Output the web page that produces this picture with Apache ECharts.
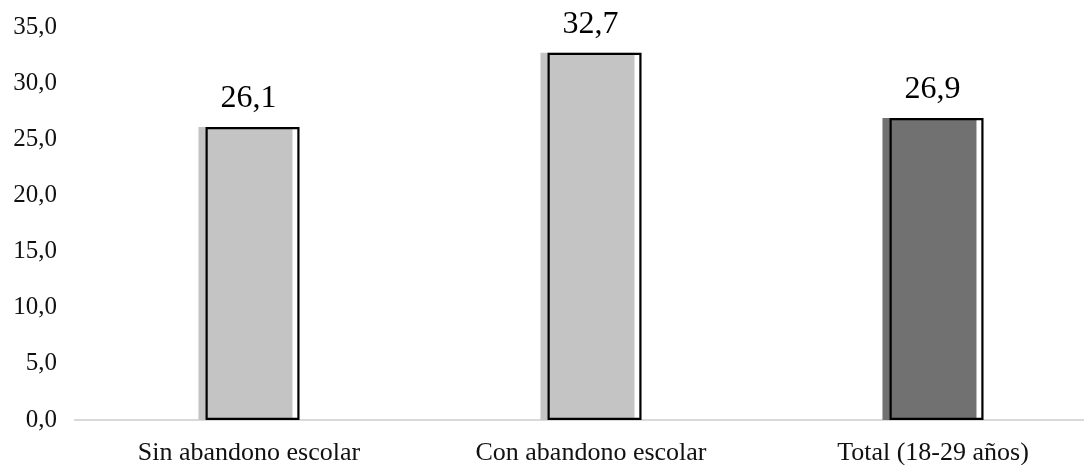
<!DOCTYPE html>
<html>
<head>
<meta charset="utf-8">
<script src="https://cdn.jsdelivr.net/npm/echarts@6/dist/echarts.min.js"></script>
<style>
html,body{margin:0;padding:0;background:#fff;}
#chart{width:1084px;height:465px;}
</style>
</head>
<body>
<div id="chart"></div>
<script>
// Data
const categories = ['Sin abandono escolar', 'Con abandono escolar', 'Total (18-29 años)'];
const values = [26.1, 32.7, 26.9];
const yTicks = { min: 0, max: 35, interval: 5 };

// Styles (kept separate from data)
const fillColors = ['#c4c4c4', '#c4c4c4', '#717171'];
const fmt = v => Number(v).toFixed(1).replace('.', ',');

const chart = echarts.init(document.getElementById('chart'), null, { renderer: 'canvas' });
chart.setOption({
  animation: false,
  backgroundColor: '#ffffff',
  graphic: [{
    type: 'line', silent: true, z: 0,
    shape: { x1: 74, y1: 420, x2: 78, y2: 420 },
    style: { stroke: '#d9d9d9', lineWidth: 2 }
  }],
  grid: { left: 78, top: 27, width: 1026, height: 393, containLabel: false, outerBoundsMode: 'none' },
  xAxis: {
    type: 'category',
    data: categories,
    axisLine: { show: true, lineStyle: { color: '#d9d9d9', width: 2 } },
    axisTick: { show: false },
    axisLabel: { margin: 20, fontFamily: 'Liberation Serif', fontSize: 26, color: '#111' }
  },
  yAxis: {
    type: 'value',
    min: yTicks.min, max: yTicks.max, interval: yTicks.interval,
    axisLine: { show: false },
    axisTick: { show: false },
    splitLine: { show: false },
    axisLabel: { margin: 21, fontFamily: 'Liberation Serif', fontSize: 25, color: '#111', formatter: fmt }
  },
  series: [
    {
      type: 'bar',
      barWidth: 94,
      barGap: '-92.5%',
      data: values.map((v, i) => ({ value: v, itemStyle: { color: fillColors[i] } })),
      silent: true,
      z: 2
    },
    {
      type: 'bar',
      barWidth: 94,
      data: values,
      itemStyle: { color: 'rgba(0,0,0,0)', borderColor: '#000', borderWidth: 2.2 },
      label: {
        show: true, position: 'top', distance: 12, offset: [-4, 0],
        fontFamily: 'Liberation Serif', fontSize: 32, color: '#000',
        formatter: p => fmt(p.value)
      },
      silent: true,
      z: 3
    }
  ]
});
</script>
</body>
</html>
